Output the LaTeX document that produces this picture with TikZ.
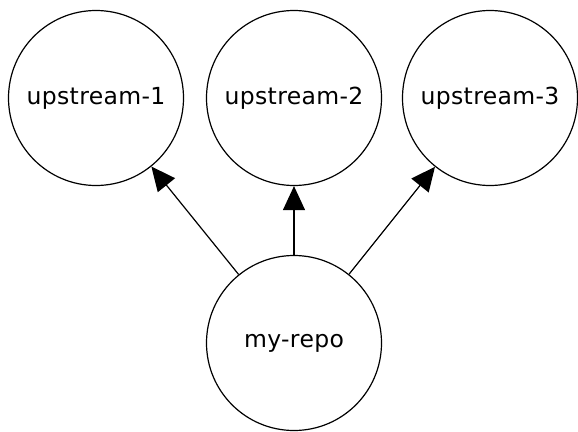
\documentclass[tikz,border=0pt]{standalone}
\usepackage{fontspec}
\setmainfont{DejaVu Sans}[LetterSpace=1.5]
\usetikzlibrary{arrows.meta}

\tikzset{repo/.style={circle, draw, line width=1.2pt, minimum size=175pt, inner sep=0pt,
    font=\fontsize{23.5}{27}\selectfont},
  dep/.style={-{Triangle[length=24pt,width=22pt]}, line width=1.2pt}}

\begin{document}
\begin{tikzpicture}[x=1pt,y=-1pt]
            \useasboundingbox (0,0) rectangle (578,431);

            \node[repo] (up1) at (96,98) {upstream-1};
            \node[repo] (up2) at (294,98) {upstream-2};
            \node[repo] (up3) at (490,98) {upstream-3};
            \node[repo] (mine) at (294,343) {my-repo};

            \draw[dep] (mine) -- (up1);
            \draw[dep] (mine) -- (up2);
            \draw[dep] (mine) -- (up3);
        \end{tikzpicture}
\end{document}
